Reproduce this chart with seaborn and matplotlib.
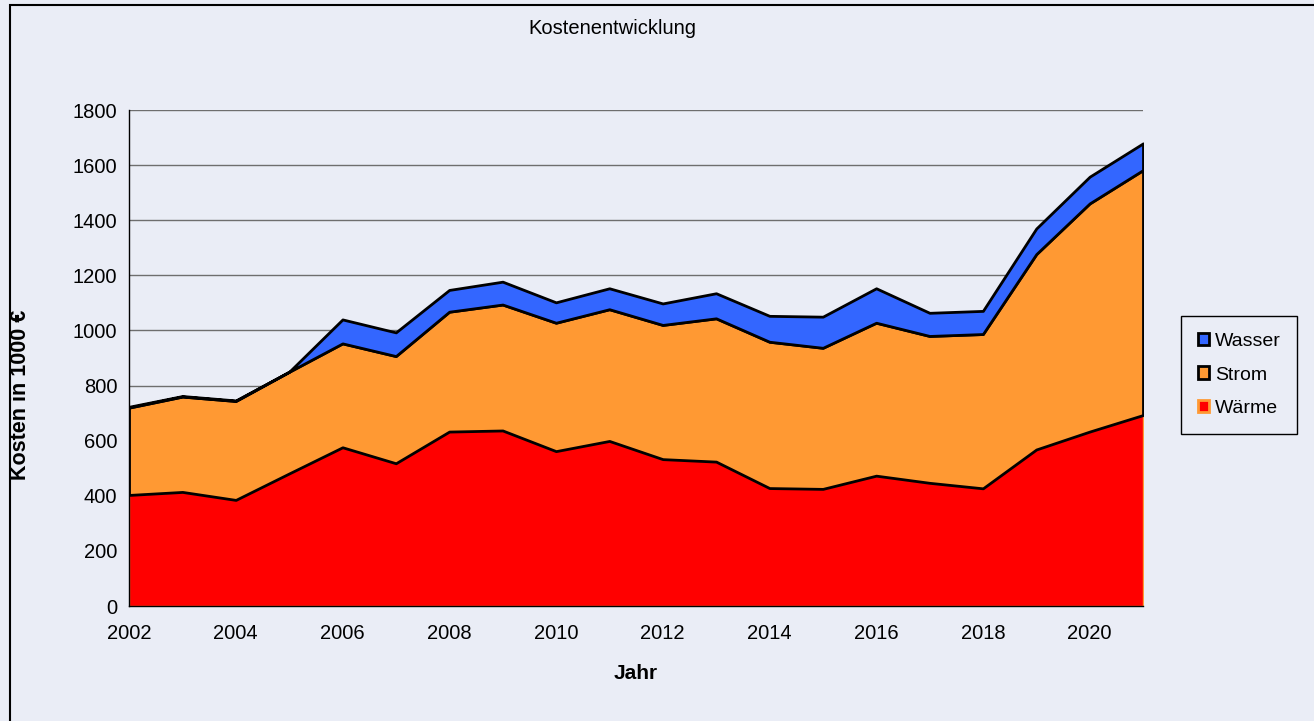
import matplotlib.pyplot as plt
import matplotlib.patches as mpatches
from matplotlib.ticker import MultipleLocator
import pandas as pd
import seaborn as sns

# Werte (Kosten in 1000 €)
jahre = list(range(2002, 2022))
waerme = [403, 414, 385, 481, 576, 518, 633, 637, 562, 599,
          533, 524, 428, 425, 473, 447, 427, 568, 633, 693]
strom = [317, 346, 359, 369, 377, 389, 435, 457, 466, 478,
         487, 520, 531, 512, 555, 533, 560, 709, 828, 889]
wasser = [3, 2, 2, 0, 87, 86, 79, 83, 74, 76,
          78, 91, 94, 113, 125, 84, 84, 93, 97, 97]

reihen = ['Wärme', 'Strom', 'Wasser']
farben = {'Wärme': '#FF0000', 'Strom': '#FF9933', 'Wasser': '#3366FF'}
hintergrund = '#EAEDF6'

df = pd.DataFrame({'Jahr': jahre, 'Wärme': waerme, 'Strom': strom, 'Wasser': wasser})

sns.set_style('white', rc={'axes.facecolor': hintergrund, 'figure.facecolor': hintergrund,
                           'text.color': 'black', 'axes.labelcolor': 'black',
                           'xtick.color': 'black', 'ytick.color': 'black'})
plt.rcParams['font.family'] = ['Liberation Sans', 'DejaVu Sans']

fig = plt.figure(figsize=(13.14, 7.21), dpi=100)
ax = fig.add_axes([129 / 1314, 1 - 606 / 721, 1014 / 1314, 496 / 721])

polys = ax.stackplot(df['Jahr'], *[df[r] for r in reihen],
                     colors=[farben[r] for r in reihen], linewidth=2, zorder=3)
polys[0].set_edgecolor('#FF9933')
polys[0].set_linewidth(1)
polys[1].set_edgecolor('black')
polys[2].set_edgecolor('black')

ax.set_xlim(2002, 2021)
ax.set_ylim(0, 1800)
ax.yaxis.set_major_locator(MultipleLocator(200))
ax.xaxis.set_major_locator(MultipleLocator(2))
ax.xaxis.set_minor_locator(MultipleLocator(1))
ax.grid(axis='y', color='#6E6E6E', linewidth=1)
ax.set_axisbelow(True)
sns.despine(ax=ax)
for s in ['left', 'bottom']:
    ax.spines[s].set_color('black')
    ax.spines[s].set_linewidth(1)
    ax.spines[s].set_zorder(4)

ax.tick_params(axis='both', which='both', direction='out', length=5, width=1,
               color='black', labelsize=14.5, labelcolor='black')
ax.tick_params(axis='x', which='minor', labelbottom=False)
ax.tick_params(axis='x', pad=8)

ax.set_xlabel('Jahr', fontsize=15, fontweight='bold')
ax.xaxis.set_label_coords(0.5, -0.117)
ax.set_ylabel('Kosten in 1000 €', fontsize=15.5, fontweight='bold')
ax.yaxis.set_label_coords(-0.097, 0.425)

fig.text(612 / 1314, 1 - 28 / 721, 'Kostenentwicklung', ha='center', va='center',
         fontsize=14.5)

# Rahmen um das Diagramm
fig.patches.append(mpatches.Rectangle((10 / 1314, -0.1), 1.2, 1 - 5 / 721 + 0.1,
                                      transform=fig.transFigure, fill=False,
                                      edgecolor='black', linewidth=1.5))

handles = [
    mpatches.Patch(facecolor=farben['Wasser'], edgecolor='black', linewidth=2, label='Wasser'),
    mpatches.Patch(facecolor=farben['Strom'], edgecolor='black', linewidth=2, label='Strom'),
    mpatches.Patch(facecolor=farben['Wärme'], edgecolor='#FF9933', linewidth=2, label='Wärme'),
]
leg = ax.legend(handles=handles, loc='center left',
                bbox_to_anchor=(1181 / 1314, 1 - 375 / 721), bbox_transform=fig.transFigure,
                fontsize=14, frameon=True, fancybox=False, framealpha=1,
                facecolor=hintergrund, edgecolor='black', handlelength=0.6,
                handleheight=0.6, handletextpad=0.3, labelspacing=0.85,
                borderpad=0.85, borderaxespad=0)
leg.get_frame().set_linewidth(1)

fig.savefig('out.png', dpi=100, facecolor=hintergrund)
